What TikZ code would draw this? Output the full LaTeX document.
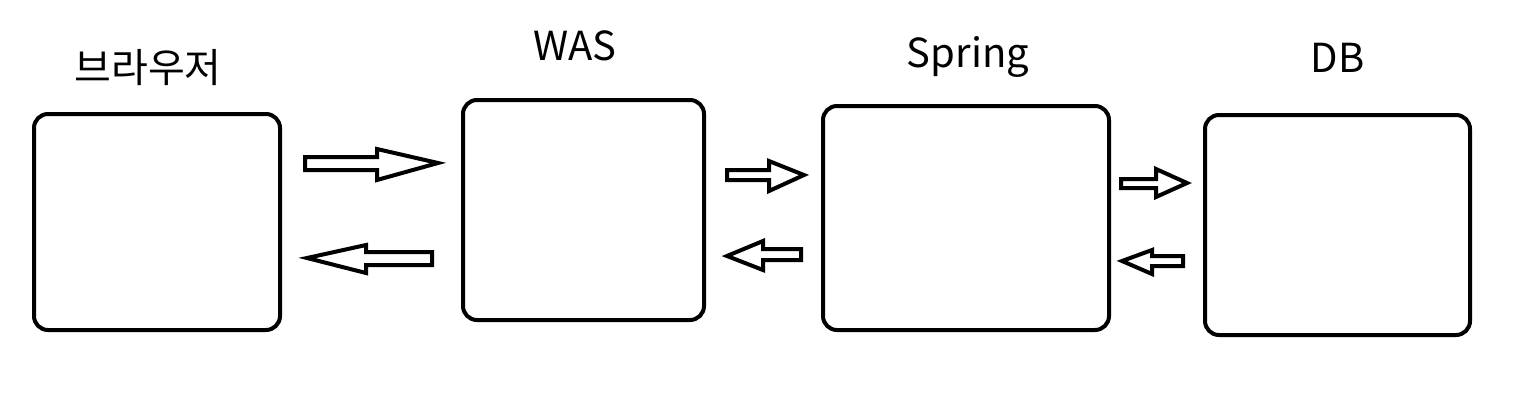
\documentclass[tikz,border=0pt]{standalone}
\usepackage{fontspec}
\setmainfont{Noto Sans CJK KR}
\usetikzlibrary{positioning}

\begin{document}
\begin{tikzpicture}[x=0.5pt,y=-0.5pt,font=\fontsize{20}{24}\selectfont,
  tier/.style={draw,line width=2pt,rounded corners=7pt,inner sep=0pt},
  ttl/.style={anchor=base,inner sep=0pt},
  blk/.style={draw,line width=2pt,line join=miter,fill=white}]
\useasboundingbox (0,0) rectangle (1531,403);
% --- the four tiers ---
\node[tier,minimum width=123pt,minimum height=108pt] (browser) at (157,222) {};
\node[tier,minimum width=120.5pt,minimum height=110pt] (was) at (583.5,210) {};
\node[tier,minimum width=143pt,minimum height=112pt] (spring) at (966,218) {};
\node[tier,minimum width=132.5pt,minimum height=110pt] (db) at (1337.5,225) {};
% --- titles ---
\node[ttl] (browserl) at (148,82) {브라우저};
\node[ttl] (wasl) at (575,60) {WAS};
\node[ttl] (springl) at (968,67) {Spring};
\node[ttl] (dbl) at (1337.5,72) {DB};
% --- requests (right) and responses (left) ---
\draw[blk] (305,157) -- (377,157) -- (377,149) -- (438,163) -- (377,180) -- (377,170) -- (305,170) -- cycle;
\draw[blk] (307,258) -- (366,245) -- (366,252) -- (432,252) -- (432,265) -- (366,265) -- (366,273) -- cycle;
\draw[blk] (727,170) -- (769,170) -- (769,161) -- (804,175) -- (769,191) -- (769,180) -- (727,180) -- cycle;
\draw[blk] (727,256) -- (763,241) -- (763,249) -- (801,249) -- (801,260) -- (763,260) -- (763,270) -- cycle;
\draw[blk] (1121,179) -- (1156,179) -- (1156,169) -- (1187,183) -- (1156,197) -- (1156,188) -- (1121,188) -- cycle;
\draw[blk] (1122,261) -- (1152,250) -- (1152,256) -- (1183,256) -- (1183,266) -- (1152,266) -- (1152,274) -- cycle;
\end{tikzpicture}
\end{document}
